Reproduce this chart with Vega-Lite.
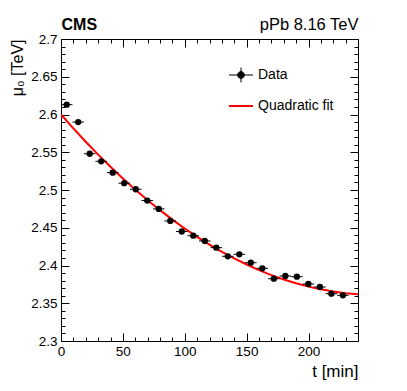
{
  "$schema": "https://vega.github.io/schema/vega-lite/v6.json",
  "width": 297,
  "height": 302,
  "autosize": {"type": "none"},
  "padding": {"left": 61, "top": 39, "right": 49, "bottom": 50},
  "background": "white",
  "config": {
    "font": "Liberation Sans",
    "view": {"stroke": null},
    "axis": {
      "grid": false,
      "domainColor": "black",
      "domainWidth": 1,
      "tickColor": "black",
      "tickWidth": 1,
      "labelColor": "black",
      "titleColor": "black",
      "labelFontSize": 13.5,
      "labelFlush": false,
      "labelOverlap": false,
      "labelBound": false
    }
  },
  "datasets": {
    "points": [
      {"t": 4.6, "mu": 2.613, "tlo": -0.05, "thi": 9.25, "mulo": 2.610, "muhi": 2.616},
      {"t": 13.9, "mu": 2.590, "tlo": 9.25, "thi": 18.55, "mulo": 2.587, "muhi": 2.593},
      {"t": 23.2, "mu": 2.548, "tlo": 18.55, "thi": 27.85, "mulo": 2.545, "muhi": 2.551},
      {"t": 32.5, "mu": 2.538, "tlo": 27.85, "thi": 37.15, "mulo": 2.535, "muhi": 2.541},
      {"t": 41.8, "mu": 2.523, "tlo": 37.15, "thi": 46.45, "mulo": 2.520, "muhi": 2.526},
      {"t": 51.1, "mu": 2.509, "tlo": 46.45, "thi": 55.75, "mulo": 2.506, "muhi": 2.512},
      {"t": 60.4, "mu": 2.501, "tlo": 55.75, "thi": 65.05, "mulo": 2.498, "muhi": 2.504},
      {"t": 69.7, "mu": 2.486, "tlo": 65.05, "thi": 74.35, "mulo": 2.483, "muhi": 2.489},
      {"t": 79.0, "mu": 2.475, "tlo": 74.35, "thi": 83.65, "mulo": 2.472, "muhi": 2.478},
      {"t": 88.3, "mu": 2.459, "tlo": 83.65, "thi": 92.95, "mulo": 2.456, "muhi": 2.462},
      {"t": 97.6, "mu": 2.445, "tlo": 92.95, "thi": 102.25, "mulo": 2.442, "muhi": 2.448},
      {"t": 106.9, "mu": 2.4395, "tlo": 102.25, "thi": 111.55, "mulo": 2.4365, "muhi": 2.4425},
      {"t": 116.2, "mu": 2.4325, "tlo": 111.55, "thi": 120.85, "mulo": 2.4295, "muhi": 2.4355},
      {"t": 125.5, "mu": 2.4236, "tlo": 120.85, "thi": 130.15, "mulo": 2.4206, "muhi": 2.4266},
      {"t": 134.8, "mu": 2.4122, "tlo": 130.15, "thi": 139.45, "mulo": 2.4092, "muhi": 2.4152},
      {"t": 144.1, "mu": 2.4148, "tlo": 139.45, "thi": 148.75, "mulo": 2.4118, "muhi": 2.4178},
      {"t": 153.4, "mu": 2.4037, "tlo": 148.75, "thi": 158.05, "mulo": 2.4007, "muhi": 2.4067},
      {"t": 162.7, "mu": 2.3963, "tlo": 158.05, "thi": 167.35, "mulo": 2.3933, "muhi": 2.3993},
      {"t": 172.0, "mu": 2.3825, "tlo": 167.35, "thi": 176.65, "mulo": 2.3795, "muhi": 2.3855},
      {"t": 181.3, "mu": 2.3861, "tlo": 176.65, "thi": 185.95, "mulo": 2.3831, "muhi": 2.3891},
      {"t": 190.6, "mu": 2.3852, "tlo": 185.95, "thi": 195.25, "mulo": 2.3822, "muhi": 2.3882},
      {"t": 199.9, "mu": 2.3755, "tlo": 195.25, "thi": 204.55, "mulo": 2.3725, "muhi": 2.3785},
      {"t": 209.2, "mu": 2.3715, "tlo": 204.55, "thi": 213.85, "mulo": 2.3685, "muhi": 2.3745},
      {"t": 218.5, "mu": 2.3627, "tlo": 213.85, "thi": 223.15, "mulo": 2.3597, "muhi": 2.3657},
      {"t": 227.8, "mu": 2.3605, "tlo": 223.15, "thi": 232.45, "mulo": 2.3575, "muhi": 2.3635}
    ],
    "fit": [
      {"t": 0, "mu": 2.6, "series": "Quadratic fit"},
      {"t": 10, "mu": 2.5816, "series": "Quadratic fit"},
      {"t": 20, "mu": 2.5639, "series": "Quadratic fit"},
      {"t": 30, "mu": 2.5469, "series": "Quadratic fit"},
      {"t": 40, "mu": 2.5307, "series": "Quadratic fit"},
      {"t": 50, "mu": 2.5153, "series": "Quadratic fit"},
      {"t": 60, "mu": 2.5005, "series": "Quadratic fit"},
      {"t": 70, "mu": 2.4865, "series": "Quadratic fit"},
      {"t": 80, "mu": 2.4733, "series": "Quadratic fit"},
      {"t": 90, "mu": 2.4608, "series": "Quadratic fit"},
      {"t": 100, "mu": 2.449, "series": "Quadratic fit"},
      {"t": 110, "mu": 2.438, "series": "Quadratic fit"},
      {"t": 120, "mu": 2.4277, "series": "Quadratic fit"},
      {"t": 130, "mu": 2.4181, "series": "Quadratic fit"},
      {"t": 140, "mu": 2.4093, "series": "Quadratic fit"},
      {"t": 150, "mu": 2.4013, "series": "Quadratic fit"},
      {"t": 160, "mu": 2.3939, "series": "Quadratic fit"},
      {"t": 170, "mu": 2.3873, "series": "Quadratic fit"},
      {"t": 180, "mu": 2.3815, "series": "Quadratic fit"},
      {"t": 190, "mu": 2.3764, "series": "Quadratic fit"},
      {"t": 200, "mu": 2.372, "series": "Quadratic fit"},
      {"t": 210, "mu": 2.3684, "series": "Quadratic fit"},
      {"t": 220, "mu": 2.3655, "series": "Quadratic fit"},
      {"t": 230, "mu": 2.3633, "series": "Quadratic fit"},
      {"t": 240, "mu": 2.3619, "series": "Quadratic fit"}
    ]
  },
  "resolve": {"axis": {"x": "independent", "y": "independent"}},
  "layer": [
    {
      "data": {"name": "fit"},
      "mark": {"type": "line", "color": "red", "strokeWidth": 2, "clip": true},
      "encoding": {
        "x": {
          "field": "t", "type": "quantitative",
          "scale": {"domain": [0, 240], "nice": false, "zero": false},
          "axis": {
            "orient": "bottom",
            "values": [0, 50, 100, 150, 200],
            "tickSize": -8,
            "labelPadding": 11,
            "title": "t [min]",
            "titleFontSize": 17,
            "titleFontWeight": "normal",
            "titleX": 297,
            "titleY": 35,
            "titleAlign": "right",
            "titleBaseline": "alphabetic",
            "titleAnchor": null
          }
        },
        "y": {
          "field": "mu", "type": "quantitative",
          "scale": {"domain": [2.3, 2.7], "nice": false, "zero": false},
          "axis": {
            "orient": "left",
            "values": [2.3, 2.35, 2.4, 2.45, 2.5, 2.55, 2.6, 2.65, 2.7],
            "format": "~g",
            "tickSize": -8,
            "labelPadding": 12,
            "title": "μ₀ [TeV]",
            "titleFontSize": 16,
            "titleFontWeight": "normal",
            "titleAngle": -90,
            "titleX": -39,
            "titleY": 0,
            "titleAlign": "right",
            "titleBaseline": "alphabetic",
            "titleAnchor": null
          }
        },
        "color": {
          "field": "series", "type": "nominal",
          "scale": {"domain": ["Data", "Quadratic fit"], "range": ["black", "red"]},
          "legend": {
            "title": null,
            "orient": "none",
            "legendX": 173,
            "legendY": 29,
            "padding": 0,
            "rowPadding": 14,
            "labelOffset": 10,
            "labelFontSize": 14,
            "labelColor": "black",
            "labelFont": "Liberation Sans",
            "symbolSize": 576,
            "encode": {
              "symbols": {
                "update": {
                  "shape": {"signal": "datum.value === 'Data' ? 'M-1,0H1M0,-0.62V0.62M0.28,0A0.28,0.28 0 1 1 -0.28,0A0.28,0.28 0 1 1 0.28,0Z' : 'stroke'"},
                  "fill": {"signal": "datum.value === 'Data' ? 'black' : 'transparent'"},
                  "stroke": {"signal": "datum.value === 'Data' ? 'black' : 'red'"},
                  "strokeWidth": {"signal": "datum.value === 'Data' ? 1 : 2"},
                  "size": {"value": 576},
                  "opacity": {"value": 1}
                }
              }
            }
          }
        }
      }
    },
    {
      "data": {"name": "points"},
      "mark": {"type": "rule", "color": "black", "strokeWidth": 1},
      "encoding": {
        "x": {
          "field": "tlo", "type": "quantitative",
          "axis": {
            "orient": "bottom",
            "values": [10, 20, 30, 40, 60, 70, 80, 90, 110, 120, 130, 140, 160, 170, 180, 190, 210, 220, 230, 240],
            "tickSize": -4,
            "labels": false,
            "domain": false,
            "title": null
          }
        },
        "x2": {"field": "thi"},
        "y": {
          "field": "mu", "type": "quantitative",
          "axis": {
            "orient": "left",
            "values": [2.31, 2.32, 2.33, 2.34, 2.36, 2.37, 2.38, 2.39, 2.41, 2.42, 2.43, 2.44, 2.46, 2.47, 2.48, 2.49, 2.51, 2.52, 2.53, 2.54, 2.56, 2.57, 2.58, 2.59, 2.61, 2.62, 2.63, 2.64, 2.66, 2.67, 2.68, 2.69],
            "tickSize": -4,
            "labels": false,
            "domain": false,
            "title": null
          }
        }
      }
    },
    {
      "data": {"name": "points"},
      "mark": {"type": "rule", "color": "black", "strokeWidth": 1},
      "encoding": {
        "x": {
          "field": "t", "type": "quantitative",
          "axis": {
            "orient": "top",
            "values": [0, 50, 100, 150, 200],
            "tickSize": -8,
            "labels": false,
            "title": "pPb 8.16 TeV",
            "titleFontSize": 16.5,
            "titleFontWeight": "normal",
            "titleX": 297,
            "titleY": -10,
            "titleAlign": "right",
            "titleBaseline": "alphabetic",
            "titleAnchor": null
          }
        },
        "y": {
          "field": "mulo", "type": "quantitative",
          "axis": {
            "orient": "right",
            "values": [2.3, 2.35, 2.4, 2.45, 2.5, 2.55, 2.6, 2.65, 2.7],
            "tickSize": -8,
            "labels": false,
            "title": null
          }
        },
        "y2": {"field": "muhi"}
      }
    },
    {
      "data": {"name": "points"},
      "mark": {"type": "point", "filled": true, "color": "black", "size": 40, "opacity": 1},
      "encoding": {
        "x": {
          "field": "t", "type": "quantitative",
          "axis": {
            "orient": "top",
            "values": [10, 20, 30, 40, 60, 70, 80, 90, 110, 120, 130, 140, 160, 170, 180, 190, 210, 220, 230, 240],
            "tickSize": -4,
            "labels": false,
            "domain": false,
            "title": "CMS",
            "titleFontSize": 16,
            "titleFontWeight": "bold",
            "titleX": 0,
            "titleY": -10,
            "titleAlign": "left",
            "titleBaseline": "alphabetic",
            "titleAnchor": null
          }
        },
        "y": {
          "field": "mu", "type": "quantitative",
          "axis": {
            "orient": "right",
            "values": [2.31, 2.32, 2.33, 2.34, 2.36, 2.37, 2.38, 2.39, 2.41, 2.42, 2.43, 2.44, 2.46, 2.47, 2.48, 2.49, 2.51, 2.52, 2.53, 2.54, 2.56, 2.57, 2.58, 2.59, 2.61, 2.62, 2.63, 2.64, 2.66, 2.67, 2.68, 2.69],
            "tickSize": -4,
            "labels": false,
            "domain": false,
            "title": null
          }
        }
      }
    }
  ]
}
